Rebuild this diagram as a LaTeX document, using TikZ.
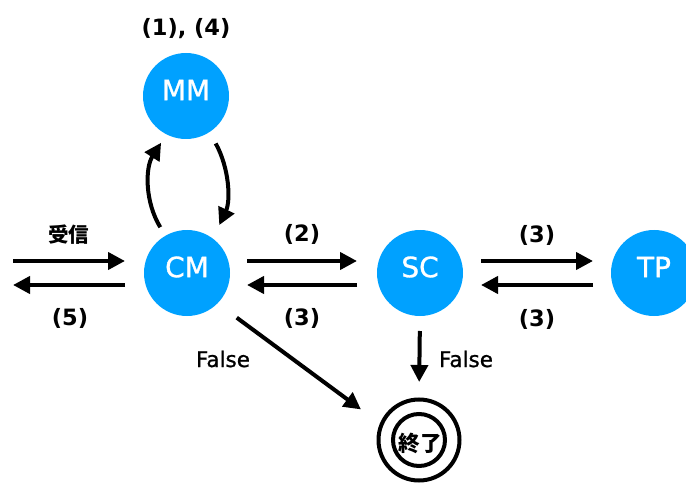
\documentclass[tikz,border=0pt]{standalone}
\usepackage{fontspec}
\setmainfont{DejaVu Sans}
\newfontfamily\medfont[FakeBold=1]{DejaVu Sans}
\newfontfamily\cjk{Noto Sans CJK JP}
\usetikzlibrary{arrows.meta}
\definecolor{nodeblue}{RGB}{0,161,255}
\begin{document}
\begin{tikzpicture}[x=1pt,y=-1pt,
  state/.style={circle, fill=nodeblue, minimum size=86pt, inner sep=0pt, outer sep=0pt},
  statetext/.style={text=white, font=\medfont\fontsize{28}{28}\selectfont, yshift=6pt, inner sep=0pt},
  arr/.style={line width=4pt, -{Triangle[length=17pt,width=17pt]}},
  lbl/.style={font=\bfseries\fontsize{22.5}{22.5}\selectfont, inner sep=0pt},
  flbl/.style={font=\medfont\fontsize{21.5}{21.5}\selectfont, inner sep=0pt},
  jlbl/.style={font=\cjk\bfseries\fontsize{20.5}{20.5}\selectfont, inner sep=0pt},
  endnode/.style={circle, minimum size=85pt, inner sep=0pt, outer sep=0pt},
  ring/.style={line width=4pt}]
\useasboundingbox (0,0) rectangle (686,484);

% states
\node[state, label={[statetext]center:MM}] (MM) at (186,96) {};
\node[state, label={[statetext]center:CM}] (CM) at (187,273) {};
\node[state, label={[statetext]center:SC}] (SC) at (420,273) {};
\node[state, label={[statetext]center:TP}] (TP) at (654,273) {};

% end node
\node[endnode] (end) at (419,440) {};
\draw[ring] (end.center) circle (40.5pt);
\draw[ring] (end.center) circle (26pt);
\node[font=\cjk\bfseries\fontsize{21.5}{21.5}\selectfont, inner sep=0pt] (endtext) at (420,443) {終了};

% free ends
\coordinate (inA) at (13,261);
\coordinate (outA) at (13,285);

% arrows
\draw[arr, shorten >=19pt] (inA) -- ([yshift=12pt]CM.west);
\draw[arr, shorten <=19pt] ([yshift=-12pt]CM.west) -- (outA);

\draw[arr, shorten <=17pt, shorten >=20pt] ([yshift=12pt]CM.east) -- ([yshift=12pt]SC.west);
\draw[arr, shorten <=20pt, shorten >=17pt] ([yshift=-12pt]SC.west) -- ([yshift=-12pt]CM.east);

\draw[arr, shorten <=18pt, shorten >=18pt] ([yshift=12pt]SC.east) -- ([yshift=12pt]TP.west);
\draw[arr, shorten <=18pt, shorten >=18pt] ([yshift=-12pt]TP.west) -- ([yshift=-12pt]SC.east);

\draw[arr, shorten <=10pt, shorten >=10pt] (CM.120) to[bend left=32] (MM.243);
\draw[arr, shorten <=13pt, shorten >=15pt] (MM.-57) to[bend left=27] (CM.53);

\draw[arr, shorten <=24pt, shorten >=23.5pt] (CM.-45.6) -- (end.157.7);
\draw[arr, shorten <=15pt, shorten >=15.5pt] (SC.south) -- (end.north);

% labels
\node[lbl] (l14) at (186,29) {(1), (4)};
\node[jlbl] (lrecv) at (69,235) {受信};
\node[lbl] (l5) at (70,318) {(5)};
\node[lbl] (l2) at (302,234) {(2)};
\node[lbl] (l3a) at (302,318) {(3)};
\node[lbl] (l3b) at (537,235) {(3)};
\node[lbl] (l3c) at (537,319) {(3)};
\node[flbl] (f1) at (223,359) {False};
\node[flbl] (f2) at (466,359) {False};
\end{tikzpicture}
\end{document}
